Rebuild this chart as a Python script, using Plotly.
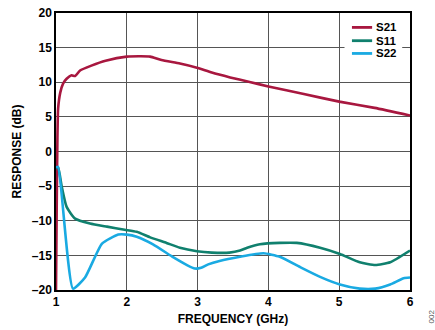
import plotly.graph_objects as go

s21_f = [1.0, 1.01, 1.02, 1.03, 1.06, 1.10, 1.15, 1.22, 1.27, 1.34, 1.5, 1.7, 2.0, 2.2, 2.33, 2.49, 2.75, 2.99, 3.2, 3.46, 3.75, 4.0, 4.5, 5.0, 5.5, 6.0]
s21_v = [-20, -8, 2, 6.2, 8.5, 9.8, 10.5, 11.0, 10.9, 11.7, 12.4, 13.1, 13.7, 13.75, 13.7, 13.2, 12.7, 12.1, 11.4, 10.7, 10.0, 9.4, 8.3, 7.2, 6.3, 5.2]

s11_f = [1.0, 1.03, 1.08, 1.15, 1.27, 1.48, 1.72, 1.97, 2.14, 2.33, 2.56, 2.75, 2.99, 3.2, 3.45, 3.60, 3.70, 3.88, 4.16, 4.40, 4.73, 5.01, 5.29, 5.51, 5.72, 6.0]
s11_v = [-2.3, -2.3, -5.0, -8.0, -9.7, -10.4, -10.85, -11.3, -11.6, -12.4, -13.2, -13.9, -14.4, -14.6, -14.6, -14.3, -13.9, -13.4, -13.2, -13.2, -13.9, -14.8, -16.0, -16.4, -16.0, -14.3]

s22_f = [1.0, 1.03, 1.24, 1.41, 1.65, 1.88, 2.0, 2.14, 2.37, 2.66, 2.85, 2.96, 3.05, 3.15, 3.31, 3.60, 3.93, 4.16, 4.45, 4.73, 5.01, 5.29, 5.51, 5.72, 5.91, 6.0]
s22_v = [-2.3, -2.2, -19.8, -18.2, -13.3, -12.0, -12.0, -12.3, -13.4, -15.3, -16.4, -16.9, -16.8, -16.3, -15.8, -15.2, -14.7, -15.2, -16.7, -18.1, -19.2, -19.8, -19.8, -19.2, -18.3, -18.2]

series_names = ["S21", "S11", "S22"]
series_colors = ["#A8173F", "#10806E", "#1AAAE2"]

x_ticks = [1, 2, 3, 4, 5, 6]
y_ticks = [-20, -15, -10, -5, 0, 5, 10, 15, 20]
y_labels = ["\u201320", "\u201315", "\u201310", "\u20135", "0", "5", "10", "15", "20"]

FONT = "Liberation Sans, Arial, sans-serif"

fig = go.Figure()
for (fx, vy), nm, col in zip([(s21_f, s21_v), (s11_f, s11_v), (s22_f, s22_v)], series_names, series_colors):
    fig.add_trace(go.Scatter(x=fx, y=vy, mode="lines", name=nm, showlegend=False,
                             line=dict(color=col, width=2.6, shape="spline", smoothing=0.5)))

fig.update_layout(
    width=435, height=330,
    margin=dict(l=56, r=25, t=6, b=40),
    paper_bgcolor="white", plot_bgcolor="white",
    font=dict(family=FONT, size=12, color="black"),
    showlegend=False,
    xaxis=dict(range=[1, 6], tickvals=x_ticks, ticktext=["<b>%d</b>" % t for t in x_ticks],
               showgrid=True, gridcolor="#555555", gridwidth=1.3,
               showline=True, linecolor="black", linewidth=1.5, mirror=True,
               ticks="", zeroline=False,
               title=dict(text="<b>FREQUENCY (GHz)</b>", font=dict(size=12), standoff=6)),
    yaxis=dict(range=[-20, 20], tickvals=y_ticks, ticktext=["<b>%s</b>" % t for t in y_labels],
               showgrid=True, gridcolor="#555555", gridwidth=1.3,
               showline=True, linecolor="black", linewidth=1.5, mirror=True,
               ticks="", zeroline=False,
               title=dict(text="<b>RESPONSE (dB)</b>", font=dict(size=12), standoff=8)),
)

# manual legend (white box over gridlines, short line samples, bold labels)
fig.add_shape(type="rect", xref="paper", yref="paper", x0=0.815, x1=0.978, y0=0.826, y1=0.972,
              fillcolor="white", line=dict(width=0), layer="above")
leg_y = [0.948, 0.900, 0.854]
for nm, col, ly in zip(series_names, series_colors, leg_y):
    fig.add_shape(type="line", xref="paper", yref="paper", x0=0.836, x1=0.893, y0=ly, y1=ly,
                  line=dict(color=col, width=2.8), layer="above")
    fig.add_annotation(text="<b>%s</b>" % nm, xref="paper", yref="paper", x=0.900, y=ly,
                       xanchor="left", yanchor="middle", showarrow=False, borderpad=0,
                       font=dict(size=11.5, family=FONT, color="black"))

fig.add_annotation(text="002", x=1.0, y=0.0, xref="paper", yref="paper",
                   xanchor="left", yanchor="bottom", xshift=14, yshift=-36,
                   textangle=-90, showarrow=False, font=dict(size=8, color="#555555"))

fig.write_html("out.html")
